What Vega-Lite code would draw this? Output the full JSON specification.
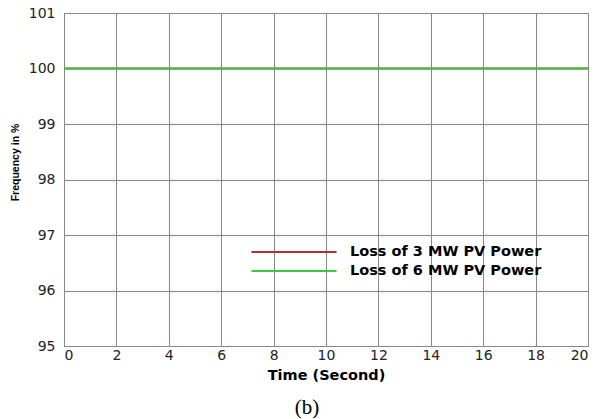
{
  "$schema": "https://vega.github.io/schema/vega-lite/v6.json",
  "autosize": "none",
  "width": 524,
  "height": 333,
  "padding": {"left": 64, "top": 13, "right": 10, "bottom": 73},
  "background": "white",
  "config": {
    "font": "DejaVu Sans",
    "view": {"stroke": "#888", "strokeWidth": 1}
  },
  "title": {
    "text": "(b)",
    "orient": "bottom",
    "anchor": "middle",
    "font": "Liberation Serif",
    "fontSize": 21,
    "fontWeight": "normal",
    "color": "#000",
    "offset": 15,
    "dx": -19
  },
  "data": {
    "values": [
      {"t": 0, "f": 100, "series": "Loss of 3 MW PV Power"},
      {"t": 20, "f": 100, "series": "Loss of 3 MW PV Power"},
      {"t": 0, "f": 100, "series": "Loss of 6 MW PV Power"},
      {"t": 20, "f": 100, "series": "Loss of 6 MW PV Power"}
    ]
  },
  "mark": {"type": "line", "strokeWidth": 2},
  "encoding": {
    "x": {
      "field": "t",
      "type": "quantitative",
      "scale": {"domain": [0, 20], "nice": false},
      "axis": {
        "values": [0, 2, 4, 6, 8, 10, 12, 14, 16, 18, 20],
        "title": "Time (Second)",
        "titleFont": "DejaVu Sans",
        "titleFontSize": 14.5,
        "titleFontWeight": "bold",
        "titleColor": "#000",
        "titlePadding": 6,
        "labelFont": "DejaVu Sans",
        "labelFontSize": 14,
        "labelColor": "#222",
        "labelPadding": 2,
        "ticks": false,
        "grid": true,
        "gridColor": "#888",
        "gridOpacity": 1,
        "gridWidth": 1,
        "domainColor": "#888"
      }
    },
    "y": {
      "field": "f",
      "type": "quantitative",
      "scale": {"domain": [95, 101], "nice": false},
      "axis": {
        "values": [95, 96, 97, 98, 99, 100, 101],
        "title": "Frequency in %",
        "titleFont": "Liberation Sans",
        "titleFontSize": 10.5,
        "titleFontWeight": "bold",
        "titleColor": "#000",
        "titleX": -44,
        "titleY": 149,
        "labelFont": "DejaVu Sans",
        "labelFontSize": 14,
        "labelColor": "#222",
        "labelPadding": 9,
        "ticks": false,
        "grid": true,
        "gridColor": "#888",
        "gridOpacity": 1,
        "gridWidth": 1,
        "domainColor": "#888"
      }
    },
    "color": {
      "field": "series",
      "type": "nominal",
      "scale": {
        "domain": ["Loss of 3 MW PV Power", "Loss of 6 MW PV Power"],
        "range": ["#a83236", "#3ec83e"]
      },
      "legend": {
        "title": null,
        "orient": "none",
        "legendX": 218,
        "legendY": 227,
        "symbolType": "M-4,0H4",
        "symbolSize": 452,
        "symbolStrokeWidth": 2,
        "symbolFillColor": "transparent",
        "labelFont": "DejaVu Sans",
        "labelFontSize": 14.5,
        "labelFontWeight": "bold",
        "labelColor": "#000",
        "labelOffset": 44,
        "rowPadding": -2,
        "labelLimit": 300
      }
    }
  }
}
